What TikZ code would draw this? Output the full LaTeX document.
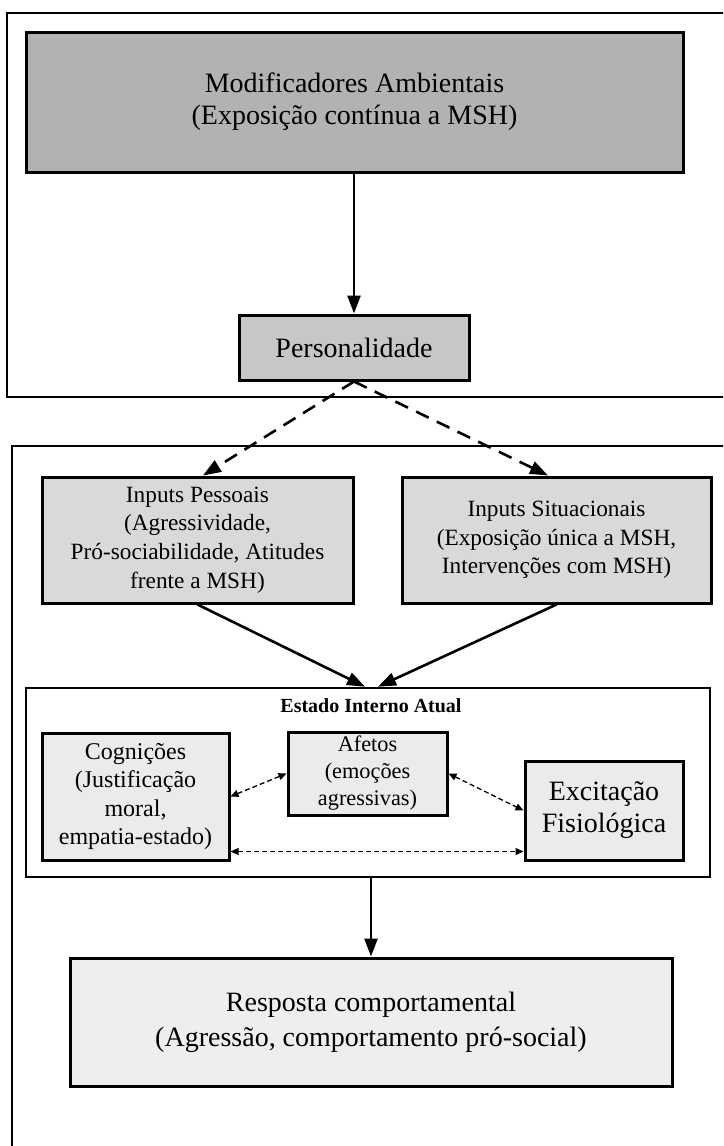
\documentclass[tikz,border=0pt]{standalone}
\usepackage{fontspec}
\setmainfont{Liberation Serif}
\usetikzlibrary{arrows.meta,calc}

\definecolor{fillA}{gray}{0.70}
\definecolor{fillB}{gray}{0.78}
\definecolor{fillC}{gray}{0.85}
\definecolor{fillD}{gray}{0.92}
\definecolor{fillE}{gray}{0.935}

\tikzset{
  frame/.style={draw=black, line width=2.4pt},
  box/.style={draw=black, line width=3pt, align=center, inner sep=0pt},
  mainarrow/.style={line width=2.6pt, -{Triangle[length=18pt,width=13pt]}},
  linkarrow/.style={line width=2.6pt, dash pattern=on 14pt off 9pt,
    -{Triangle[length=18pt,width=13pt]}},
  feedback/.style={line width=1.3pt, dash pattern=on 5pt off 3pt,
    {Triangle[length=8pt,width=7pt]}-{Triangle[length=8pt,width=7pt]}},
}

\begin{document}
\begin{tikzpicture}[x=1pt,y=-1pt]
\useasboundingbox (0,0) rectangle (723,1146);

% outer frames (open towards the right / bottom edge)
\begin{scope}
  \clip (0,0) rectangle (723,1146);
  \draw[frame] (7,13) rectangle (760,397);
  \draw[frame] (12,446) rectangle (760,1200);
\end{scope}

% upper frame
\node[box, fill=fillA, minimum width=657pt, minimum height=140pt,
      font=\fontsize{28}{32}\selectfont] (mod) at (354.5,102)
  {Modificadores Ambientais\\(Exposição contínua a MSH)};
\node[box, fill=fillB, minimum width=230pt, minimum height=65pt,
      font=\fontsize{28}{32}\selectfont] (pers) at (354,347.5)
  {Personalidade};

% inputs
\node[box, fill=fillC, minimum width=311pt, minimum height=126pt,
      font=\fontsize{23.3}{28.6}\selectfont] (ip) at (197.5,540)
  {Inputs Pessoais\\(Agressividade,\\Pró-sociabilidade, Atitudes\\frente a MSH)};
\node[box, fill=fillC, minimum width=309pt, minimum height=126pt,
      font=\fontsize{23.3}{28.6}\selectfont] (is) at (556.5,540)
  {Inputs Situacionais\\(Exposição única a MSH,\\Intervenções com MSH)};

% current internal state
\node[draw=black, line width=2.6pt, fill=white, inner sep=0pt,
      minimum width=684pt, minimum height=189pt] (est) at (368,782.5) {};
\node[font=\fontsize{20}{24}\selectfont\bfseries, anchor=base, inner sep=0pt]
  (esttitle) at (371,712) {Estado Interno Atual};

\node[box, fill=fillD, minimum width=187pt, minimum height=127pt,
      font=\fontsize{24}{28.3}\selectfont] (cog) at (135.5,796.5)
  {Cognições\\(Justificação\\moral,\\empatia-estado)};
\node[box, fill=fillD, minimum width=159pt, minimum height=83pt,
      font=\fontsize{22.3}{27}\selectfont] (afe) at (367.5,773.5)
  {Afetos\\(emoções\\agressivas)};
\node[box, fill=fillD, minimum width=158pt, minimum height=99pt,
      font=\fontsize{28}{32}\selectfont] (exc) at (604,810.5)
  {Excitação\\Fisiológica};

% response
\node[box, fill=fillE, minimum width=602pt, minimum height=128pt,
      font=\fontsize{28}{35}\selectfont] (resp) at (371,1022)
  {Resposta comportamental\\(Agressão, comportamento pró-social)};

% connectors
\draw[mainarrow] (mod.south -| pers.north) -- (pers.north);
\draw[linkarrow] (pers.south) -- ($(ip.north)+(5.5,0)$);
\draw[linkarrow] (pers.south) -- ($(is.north)+(-8.5,0)$);
\draw[mainarrow] (ip.south) -- ($(est.north)+(-3,0)$);
\draw[mainarrow] (is.south) -- ($(est.north)+(10,0)$);
\draw[feedback] (cog.east) -- (afe.west);
\draw[feedback] (afe.east) -- (exc.west);
\draw[feedback] ($(cog.south east)+(0,-10)$) -- ($(exc.south west)+(0,-10)$);
\draw[mainarrow] (resp.north |- est.south) -- (resp.north);
\end{tikzpicture}
\end{document}
